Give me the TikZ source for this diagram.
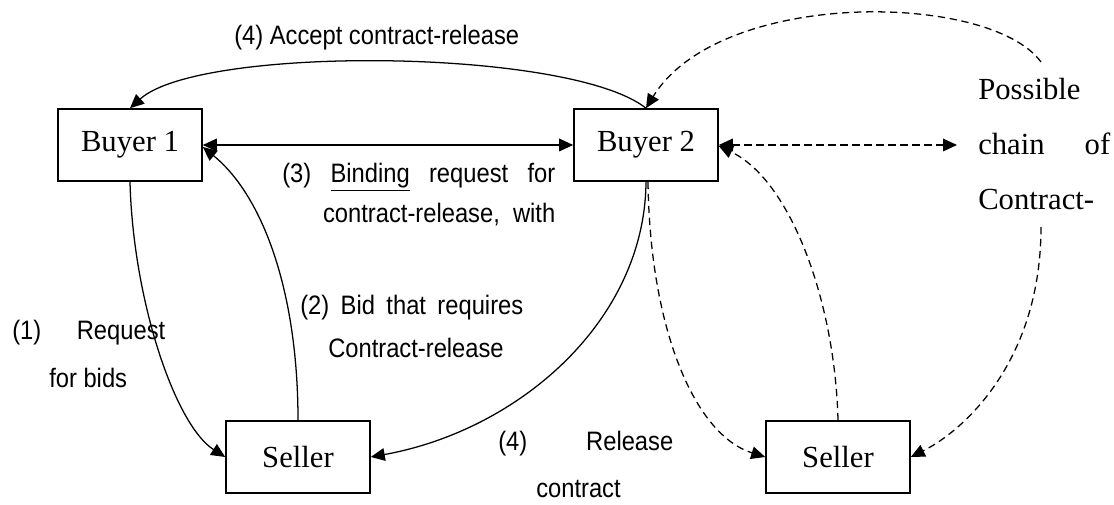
\documentclass[tikz,border=0pt]{standalone}
\usepackage{fontspec}
\setmainfont{Liberation Serif}
\newfontfamily\labfont[FakeStretch=0.89]{Liberation Sans}
\usetikzlibrary{arrows.meta,calc}
\tikzset{
  box/.style={draw, line width=1.2pt, minimum width=108pt, minimum height=54pt, inner sep=0pt, font=\fontsize{23}{27}\selectfont},
  lbl/.style={inner sep=0pt, anchor=base west, font=\labfont\fontsize{20}{30}\selectfont},
  ptxt/.style={inner sep=0pt, anchor=base west, font=\fontsize{23}{41.25}\selectfont},
  conn/.style={line width=0.95pt},
  dsh/.style={line width=0.95pt, dash pattern=on 5.5pt off 3.5pt},
  tipE/.style={-{Triangle[length=10.5pt,width=9.5pt]}},
  tipB/.style={{Triangle[length=10.5pt,width=9.5pt]}-{Triangle[length=10.5pt,width=9.5pt]}}
}
\begin{document}
\begin{tikzpicture}[x=0.75pt,y=-0.75pt]
\useasboundingbox (0,0) rectangle (1114,505);
% boxes
\node[box] (b1) at (130,145) {Buyer 1};
\node[box] (b2) at (646,145) {Buyer 2};
\node[box] (s1) at (298,457) {Seller};
\node[box] (s2) at (838,457) {Seller};
% labels
\node[lbl] (acc) at (234,45) {(4) Accept contract-release};
\node[lbl] (l3) at (282,183) {\parbox[t]{204.75pt}{\fontsize{20}{30}\selectfont\raggedleft
  \makebox[\linewidth][s]{(3) \underline{Binding} request for}\\ contract-release,\ \ with}};
\node[lbl] (l2) at (300,315) {\parbox[t]{167.25pt}{\fontsize{20}{32.25}\selectfont
  \makebox[\linewidth][s]{(2) Bid that requires}\\ \hspace*{21pt}Contract-release}};
\node[lbl] (l1) at (12,340) {\parbox[t]{114.75pt}{\fontsize{20}{36}\selectfont
  \makebox[\linewidth][s]{(1) Request}\\ \hspace*{27.75pt}for bids}};
\node[lbl] (l4) at (498,451) {\parbox[t]{131.25pt}{\fontsize{20}{35.25}\selectfont
  \makebox[\linewidth][s]{(4) Release}\\ \hspace*{28.5pt}contract}};
\node[ptxt] (poss) at (978,100) {\parbox[t]{99pt}{\fontsize{23}{41.25}\selectfont\raggedright
  Possible\\ \makebox[\linewidth][s]{chain of}\\ Contract-}};
% free ends near the text block
\coordinate (pTop) at (1041,62);
\coordinate (pBot) at (1041,227);
\coordinate (pLeft) at (957,145);
% solid connectors
\draw[conn,tipE] (b2.north) .. controls (570,48) and (200,45) .. (b1.north);
\draw[conn,tipB] (b1.east) -- (b2.west);
\draw[conn,tipE] (s1.north) .. controls (298,290) and (262,195) .. ($(b1.east)+(0,2)$);
\draw[conn,tipE] (b1.south) .. controls (133,300) and (175,425) .. (s1.west);
\draw[conn,tipE] (b2.south) .. controls (645,320) and (520,430) .. (s1.east);
% dashed connectors
\draw[dsh,tipE] (pTop) .. controls (990,-8) and (720,-12) .. (b2.north);
\draw[dsh,tipB] (b2.east) -- (pLeft);
\draw[dsh,tipE] ($(b2.south)+(2,0)$) .. controls (650,330) and (695,435) .. (s2.west);
\draw[dsh,tipE] (s2.north) .. controls (835,300) and (790,180) .. ($(b2.east)+(0,1)$);
\draw[dsh,tipE] (pBot) .. controls (1041,360) and (965,430) .. (s2.east);
\end{tikzpicture}
\end{document}
